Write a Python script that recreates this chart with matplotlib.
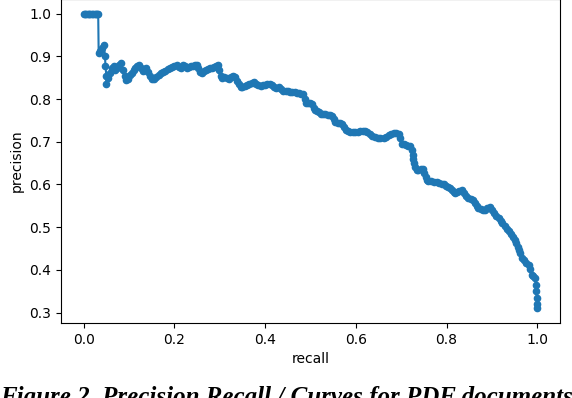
import matplotlib
matplotlib.use("Agg")
import matplotlib.pyplot as plt

# precision / recall points
recall = [
    0.000, 0.003, 0.006, 0.009, 0.012, 0.015, 0.018, 0.021, 0.024, 0.027, 0.030, 0.032,
    0.033, 0.037, 0.041, 0.045, 0.047, 0.048, 0.050, 0.050, 0.054, 0.058, 0.062, 0.066,
    0.070, 0.074, 0.078, 0.082, 0.086, 0.090, 0.094, 0.098, 0.102, 0.106, 0.110, 0.114,
    0.118, 0.122, 0.126, 0.130, 0.134, 0.138, 0.142, 0.146, 0.150, 0.155, 0.160, 0.165,
    0.170, 0.175, 0.180, 0.185, 0.190, 0.195, 0.200, 0.205, 0.210, 0.215, 0.219, 0.224,
    0.228, 0.232, 0.236, 0.240, 0.245, 0.249, 0.252, 0.256, 0.260, 0.265, 0.270, 0.274,
    0.278, 0.283, 0.288, 0.292, 0.296, 0.299, 0.302, 0.305, 0.310, 0.315, 0.320, 0.325,
    0.330, 0.334, 0.338, 0.342, 0.346, 0.350, 0.355, 0.360, 0.365, 0.370, 0.375, 0.380,
    0.385, 0.390, 0.395, 0.400, 0.405, 0.410, 0.415, 0.420, 0.425, 0.430, 0.435, 0.440,
    0.445, 0.450, 0.455, 0.460, 0.465, 0.470, 0.475, 0.480, 0.484, 0.488, 0.491, 0.495,
    0.499, 0.503, 0.507, 0.511, 0.514, 0.518, 0.523, 0.528, 0.533, 0.538, 0.543, 0.547,
    0.551, 0.555, 0.560, 0.565, 0.569, 0.573, 0.578, 0.583, 0.588, 0.593, 0.598, 0.604,
    0.610, 0.615, 0.620, 0.625, 0.631, 0.636, 0.642, 0.648, 0.654, 0.661, 0.667, 0.672,
    0.678, 0.683, 0.688, 0.694, 0.697, 0.701, 0.706, 0.711, 0.716, 0.720, 0.723, 0.725,
    0.727, 0.729, 0.731, 0.734, 0.738, 0.743, 0.748, 0.751, 0.754, 0.756, 0.760, 0.766,
    0.772, 0.778, 0.784, 0.789, 0.794, 0.799, 0.804, 0.808, 0.812, 0.816, 0.819, 0.823,
    0.828, 0.834, 0.838, 0.842, 0.848, 0.853, 0.859, 0.863, 0.867, 0.870, 0.875, 0.880,
    0.885, 0.890, 0.896, 0.899, 0.904, 0.909, 0.915, 0.919, 0.923, 0.929, 0.933, 0.937,
    0.941, 0.946, 0.951, 0.954, 0.957, 0.959, 0.962, 0.966, 0.970, 0.975, 0.981, 0.984,
    0.988, 0.991, 0.995, 0.997, 0.998, 0.999, 1.000, 1.000,
]
precision = [
    1.000, 1.000, 1.000, 1.000, 1.000, 1.000, 1.000, 1.000, 1.000, 1.000, 1.000, 1.000,
    0.909, 0.912, 0.920, 0.926, 0.900, 0.877, 0.855, 0.835, 0.850, 0.862, 0.872, 0.878,
    0.868, 0.872, 0.880, 0.884, 0.868, 0.855, 0.845, 0.848, 0.856, 0.862, 0.868, 0.874,
    0.877, 0.879, 0.872, 0.866, 0.870, 0.874, 0.864, 0.854, 0.846, 0.848, 0.852, 0.856,
    0.860, 0.864, 0.867, 0.870, 0.874, 0.876, 0.878, 0.880, 0.876, 0.874, 0.879, 0.877,
    0.873, 0.875, 0.878, 0.877, 0.880, 0.881, 0.872, 0.864, 0.860, 0.866, 0.868, 0.870,
    0.872, 0.874, 0.876, 0.878, 0.880, 0.868, 0.855, 0.850, 0.851, 0.850, 0.848, 0.851,
    0.853, 0.852, 0.842, 0.835, 0.828, 0.828, 0.830, 0.833, 0.836, 0.838, 0.840, 0.836,
    0.832, 0.830, 0.832, 0.834, 0.835, 0.836, 0.833, 0.828, 0.826, 0.828, 0.824, 0.820,
    0.818, 0.818, 0.817, 0.816, 0.816, 0.815, 0.814, 0.812, 0.811, 0.800, 0.792, 0.790,
    0.791, 0.788, 0.780, 0.774, 0.773, 0.770, 0.766, 0.765, 0.764, 0.762, 0.762, 0.761,
    0.754, 0.747, 0.745, 0.743, 0.742, 0.735, 0.728, 0.726, 0.724, 0.723, 0.723, 0.724,
    0.725, 0.726, 0.726, 0.722, 0.719, 0.714, 0.711, 0.710, 0.710, 0.709, 0.712, 0.716,
    0.719, 0.721, 0.720, 0.719, 0.708, 0.695, 0.694, 0.692, 0.691, 0.690, 0.680, 0.670,
    0.660, 0.650, 0.641, 0.633, 0.634, 0.636, 0.637, 0.628, 0.618, 0.610, 0.608, 0.607,
    0.606, 0.606, 0.604, 0.602, 0.600, 0.597, 0.594, 0.591, 0.587, 0.582, 0.579, 0.582,
    0.585, 0.587, 0.580, 0.573, 0.568, 0.566, 0.563, 0.556, 0.549, 0.544, 0.542, 0.541,
    0.540, 0.546, 0.548, 0.541, 0.533, 0.527, 0.521, 0.515, 0.510, 0.502, 0.496, 0.490,
    0.484, 0.477, 0.470, 0.462, 0.453, 0.447, 0.440, 0.428, 0.422, 0.417, 0.412, 0.402,
    0.389, 0.385, 0.381, 0.365, 0.350, 0.335, 0.320, 0.310,
]

caption = "Figure 2. Precision Recall / Curves for PDF documents"

fig = plt.figure(figsize=(5.72, 3.98), dpi=100)
ax = fig.add_axes([61 / 572, 75 / 398, 499 / 572, 324 / 398])
ax.plot(recall, precision, marker=".", markersize=9, color="#1f77b4", linewidth=1.5)
ax.set_xlabel("recall")
ax.set_ylabel("precision")
ax.set_xticks([0.0, 0.2, 0.4, 0.6, 0.8, 1.0])
ax.set_yticks([0.3, 0.4, 0.5, 0.6, 0.7, 0.8, 0.9, 1.0])

# caption sits at the very bottom, partly cut like in the scanned figure
fig.text(0.5, -6 / 398, caption, ha="center", va="baseline",
         fontfamily="Liberation Serif", fontweight="bold", style="italic", fontsize=18)

fig.savefig("out.png", dpi=100)
